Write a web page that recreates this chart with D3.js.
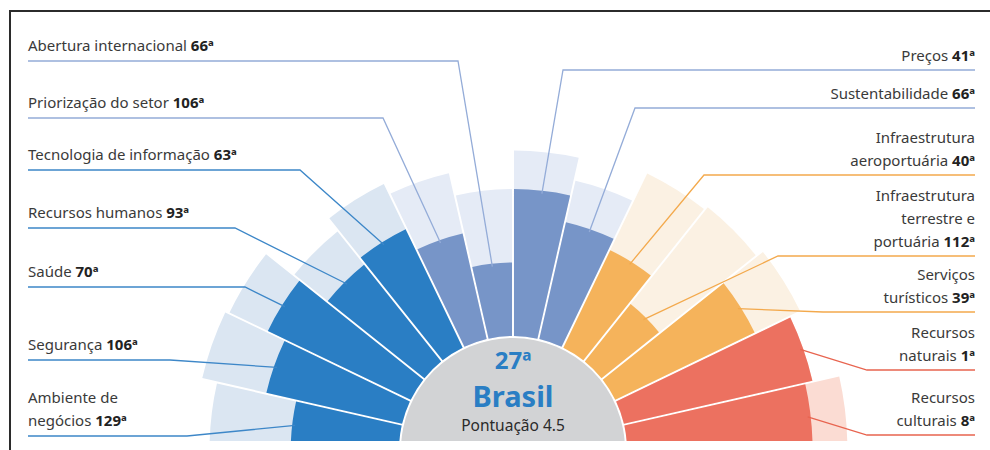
<!DOCTYPE html>
<html>
<head>
<meta charset="utf-8">
<script src="https://cdn.jsdelivr.net/npm/d3@7"></script>
<style>
  body { margin: 0; background: #fff; }
  svg { display: block; font-family: "Noto Sans", "Open Sans", sans-serif; }
</style>
</head>
<body>
<svg id="chart" width="990" height="450"></svg>
<script>
// pillars, from the left horizontal round to the right horizontal
const categories = ["Ambiente de negócios", "Segurança", "Saúde", "Recursos humanos",
    "Tecnologia de informação", "Priorização do setor", "Abertura internacional",
    "Preços", "Sustentabilidade", "Infraestrutura aeroportuária",
    "Infraestrutura terrestre e portuária", "Serviços turísticos",
    "Recursos naturais", "Recursos culturais"];
const labelLines = [["Ambiente de", "negócios"], ["Segurança"], ["Saúde"], ["Recursos humanos"],
    ["Tecnologia de informação"], ["Priorização do setor"], ["Abertura internacional"],
    ["Preços"], ["Sustentabilidade"], ["Infraestrutura", "aeroportuária"],
    ["Infraestrutura", "terrestre e", "portuária"], ["Serviços", "turísticos"],
    ["Recursos", "naturais"], ["Recursos", "culturais"]];
const ranks = [129, 106, 70, 93, 63, 106, 66, 41, 66, 40, 112, 39, 1, 8];
const groups = ["a", "a", "a", "a", "a", "b", "b", "b", "b", "c", "c", "c", "d", "d"];
// Brazil score and best score per pillar (1-7)
const scores = [3.8, 4.6, 5.1, 4.2, 4.4, 3.8, 2.9, 4.8, 4.1, 3.8, 2.9, 5.0, 6.0, 5.8];
const best = [5.9, 6.3, 6.2, 5.3, 5.7, 5.4, 4.8, 5.8, 5.2, 6.0, 6.1, 6.3, 6.0, 6.7];
const overallRank = "27ª";
const country = "Brasil";
const overallScore = "Pontuação 4.5";

// layout for label leader lines
const lineY = [436, 360, 287, 228, 170, 118, 61, 70, 108, 175, 256, 312, 370, 435];
const elbowX = [187, 170, 245, 235, 300, 383, 458, 563, 635, 704, 778, 823, 867, 867];

const dark = {a: "#2a7ec4", b: "#7795c8", c: "#f5b35b", d: "#ec7160"};
const light = {a: "#dbe6f2", b: "#e5ebf6", c: "#fbf1e3", d: "#fbdcd3"};
const lineColor = {a: "#3d87c8", b: "#94acd8", c: "#f3a94c", d: "#e8644f"};

const svg = d3.select("#chart");
const cx = 513, cy = 450, innerR = 114;

svg.append("defs").append("clipPath").attr("id", "clip")
    .append("rect").attr("x", 0).attr("y", 0).attr("width", 990).attr("height", 441);

const angle = d3.scaleBand()
    .domain(categories)
    .range([-Math.PI / 2, Math.PI / 2])
    .padding(0);

const radius = d3.scaleLinear()
    .domain([1, 7])
    .range([innerR, 346]);

const data = categories.map((c, i) => ({
    name: c, lines: labelLines[i], rank: ranks[i], group: groups[i],
    score: scores[i], best: best[i], ly: lineY[i], ex: elbowX[i], i: i
}));

const arc = d3.arc()
    .innerRadius(innerR)
    .startAngle(d => angle(d.name))
    .endAngle(d => angle(d.name) + angle.bandwidth())
    .padAngle(0.0065)
    .padRadius(300);

const g = svg.append("g").attr("clip-path", "url(#clip)");
const center = g.append("g").attr("transform", `translate(${cx},${cy})`);

// background bars
center.selectAll(".bg").data(data).enter()
    .append("path")
    .attr("class", "bg")
    .attr("d", d => arc.outerRadius(radius(d.best))(d))
    .attr("fill", d => light[d.group]);

// score bars
center.selectAll(".bar").data(data).enter()
    .append("path")
    .attr("class", "bar")
    .attr("d", d => arc.outerRadius(radius(d.score))(d))
    .attr("fill", d => dark[d.group]);

center.append("circle")
    .attr("r", innerR - 2)
    .attr("fill", "#d2d3d5");

// leader lines
function endPoint(d) {
    const a = angle(d.name) + angle.bandwidth() / 2;
    const r = radius(d.score) - 3;
    return [cx + r * Math.sin(a), cy - r * Math.cos(a)];
}

g.selectAll(".leader").data(data).enter()
    .append("polyline")
    .attr("class", "leader")
    .attr("points", d => {
        const e = endPoint(d);
        const xEdge = d.i < 7 ? 28 : 975;
        return [[xEdge, d.ly], [d.ex, d.ly], e].map(p => p.join(",")).join(" ");
    })
    .attr("fill", "none")
    .attr("stroke", d => lineColor[d.group])
    .attr("stroke-width", 1.3);

// labels
const labels = svg.selectAll(".label").data(data).enter()
    .append("text")
    .attr("class", "label")
    .attr("text-anchor", d => d.i < 7 ? "start" : "end")
    .attr("font-size", 15)
    .attr("fill", "#3a3a3a");

labels.each(function(d) {
    const t = d3.select(this);
    const x = d.i < 7 ? 28 : 975;
    const n = d.lines.length;
    d.lines.forEach((ln, k) => {
        const base = d.ly - (d.i < 7 ? 10 : 9) - (n - 1 - k) * 23;
        t.append("tspan").attr("x", x).attr("y", base).text(ln);
        if (k === n - 1) {
            t.append("tspan").attr("font-weight", "bold").attr("fill", "#222")
                .text(" " + d.rank + "ª");
        }
    });
});

// centre text
svg.append("text")
    .attr("x", cx).attr("y", 369)
    .attr("text-anchor", "middle")
    .attr("font-size", 24).attr("font-weight", "bold")
    .attr("fill", dark.a)
    .text(overallRank);
svg.append("text")
    .attr("x", cx).attr("y", 407)
    .attr("text-anchor", "middle")
    .attr("font-size", 29).attr("font-weight", "bold")
    .attr("fill", dark.a)
    .text(country);
svg.append("text")
    .attr("x", cx).attr("y", 431)
    .attr("text-anchor", "middle")
    .attr("font-size", 15.5)
    .attr("fill", "#2a2a2a")
    .text(overallScore);

// frame
svg.append("path")
    .attr("d", "M10,450 V11 H990")
    .attr("fill", "none")
    .attr("stroke", "#2b2b2b")
    .attr("stroke-width", 2);
</script>
</body>
</html>
